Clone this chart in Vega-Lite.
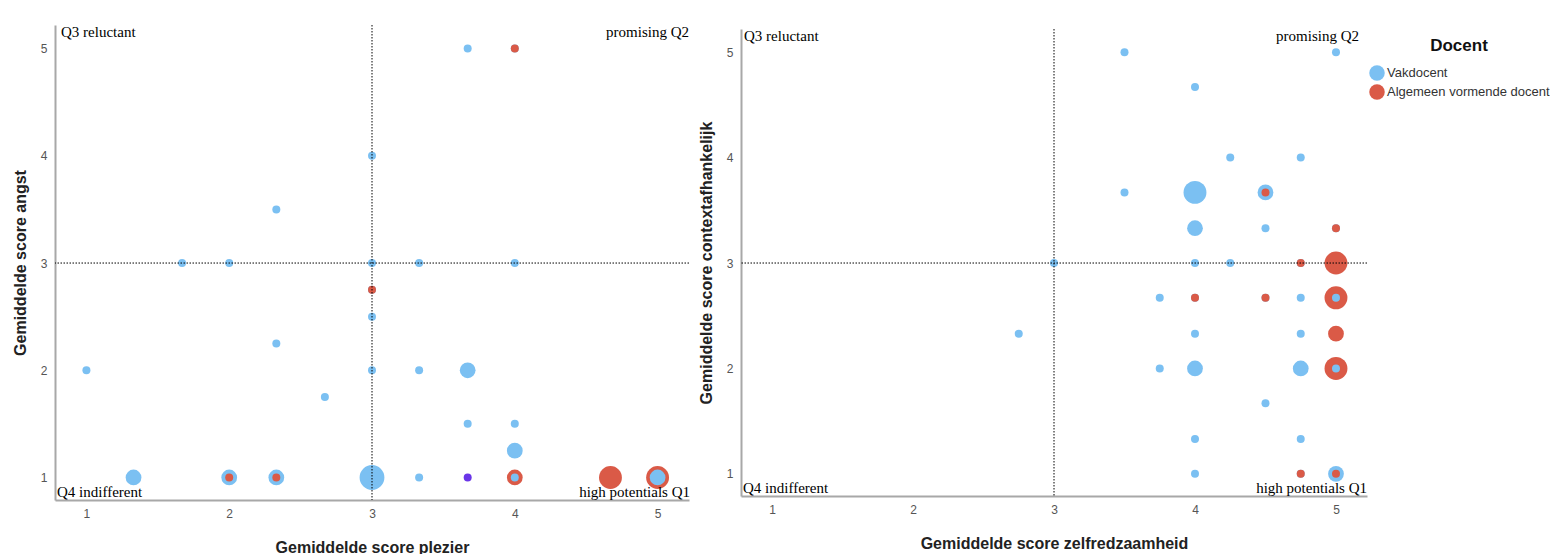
{
  "$schema": "https://vega.github.io/schema/vega-lite/v6.json",
  "background": "white",
  "padding": {"left": 12, "top": 24, "right": 0, "bottom": 0},
  "datasets": {
    "plezier": [
      {"x": 3, "y": 1, "n": 7, "Docent": "Vakdocent"},
      {"x": 4.67, "y": 1, "n": 6, "Docent": "Algemeen vormende docent"},
      {"x": 5, "y": 1, "n": 6, "Docent": "Algemeen vormende docent"},
      {"x": 5, "y": 1, "n": 3, "Docent": "Vakdocent"},
      {"x": 1.33, "y": 1, "n": 3, "Docent": "Vakdocent"},
      {"x": 2, "y": 1, "n": 3, "Docent": "Vakdocent"},
      {"x": 2.33, "y": 1, "n": 3, "Docent": "Vakdocent"},
      {"x": 3.67, "y": 2, "n": 3, "Docent": "Vakdocent"},
      {"x": 4, "y": 1.25, "n": 3, "Docent": "Vakdocent"},
      {"x": 4, "y": 1, "n": 3, "Docent": "Algemeen vormende docent"},
      {"x": 4, "y": 1, "n": 1, "Docent": "Vakdocent"},
      {"x": 2, "y": 1, "n": 1, "Docent": "Algemeen vormende docent"},
      {"x": 2.33, "y": 1, "n": 1, "Docent": "Algemeen vormende docent"},
      {"x": 3.67, "y": 5, "n": 1, "Docent": "Vakdocent"},
      {"x": 4, "y": 5, "n": 1, "Docent": "Vakdocent"},
      {"x": 4, "y": 5, "n": 1, "Docent": "Algemeen vormende docent"},
      {"x": 3, "y": 4, "n": 1, "Docent": "Vakdocent"},
      {"x": 2.33, "y": 3.5, "n": 1, "Docent": "Vakdocent"},
      {"x": 1.67, "y": 3, "n": 1, "Docent": "Vakdocent"},
      {"x": 2, "y": 3, "n": 1, "Docent": "Vakdocent"},
      {"x": 3, "y": 3, "n": 1, "Docent": "Vakdocent"},
      {"x": 3.33, "y": 3, "n": 1, "Docent": "Vakdocent"},
      {"x": 4, "y": 3, "n": 1, "Docent": "Vakdocent"},
      {"x": 3, "y": 2.75, "n": 1, "Docent": "Vakdocent"},
      {"x": 3, "y": 2.75, "n": 1, "Docent": "Algemeen vormende docent"},
      {"x": 3, "y": 2.5, "n": 1, "Docent": "Vakdocent"},
      {"x": 2.33, "y": 2.25, "n": 1, "Docent": "Vakdocent"},
      {"x": 1, "y": 2, "n": 1, "Docent": "Vakdocent"},
      {"x": 3, "y": 2, "n": 1, "Docent": "Vakdocent"},
      {"x": 3.33, "y": 2, "n": 1, "Docent": "Vakdocent"},
      {"x": 2.67, "y": 1.75, "n": 1, "Docent": "Vakdocent"},
      {"x": 3.67, "y": 1.5, "n": 1, "Docent": "Vakdocent"},
      {"x": 4, "y": 1.5, "n": 1, "Docent": "Vakdocent"},
      {"x": 3.33, "y": 1, "n": 1, "Docent": "Vakdocent"},
      {"x": 3.67, "y": 1, "n": 1, "Docent": "Beide"}
    ],
    "zelf": [
      {"x": 4, "y": 3.67, "n": 6, "Docent": "Vakdocent"},
      {"x": 5, "y": 3, "n": 6, "Docent": "Algemeen vormende docent"},
      {"x": 5, "y": 2.67, "n": 6, "Docent": "Algemeen vormende docent"},
      {"x": 5, "y": 2, "n": 6, "Docent": "Algemeen vormende docent"},
      {"x": 4.5, "y": 3.67, "n": 3, "Docent": "Vakdocent"},
      {"x": 4, "y": 3.33, "n": 3, "Docent": "Vakdocent"},
      {"x": 5, "y": 2.33, "n": 3, "Docent": "Algemeen vormende docent"},
      {"x": 4, "y": 2, "n": 3, "Docent": "Vakdocent"},
      {"x": 4.75, "y": 2, "n": 3, "Docent": "Vakdocent"},
      {"x": 5, "y": 1, "n": 3, "Docent": "Vakdocent"},
      {"x": 3.5, "y": 5, "n": 1, "Docent": "Vakdocent"},
      {"x": 5, "y": 5, "n": 1, "Docent": "Vakdocent"},
      {"x": 4, "y": 4.67, "n": 1, "Docent": "Vakdocent"},
      {"x": 4.25, "y": 4, "n": 1, "Docent": "Vakdocent"},
      {"x": 4.75, "y": 4, "n": 1, "Docent": "Vakdocent"},
      {"x": 3.5, "y": 3.67, "n": 1, "Docent": "Vakdocent"},
      {"x": 4.5, "y": 3.67, "n": 1, "Docent": "Algemeen vormende docent"},
      {"x": 4.5, "y": 3.33, "n": 1, "Docent": "Vakdocent"},
      {"x": 5, "y": 3.33, "n": 1, "Docent": "Vakdocent"},
      {"x": 5, "y": 3.33, "n": 1, "Docent": "Algemeen vormende docent"},
      {"x": 3, "y": 3, "n": 1, "Docent": "Vakdocent"},
      {"x": 4, "y": 3, "n": 1, "Docent": "Vakdocent"},
      {"x": 4.25, "y": 3, "n": 1, "Docent": "Vakdocent"},
      {"x": 4.75, "y": 3, "n": 1, "Docent": "Vakdocent"},
      {"x": 4.75, "y": 3, "n": 1, "Docent": "Algemeen vormende docent"},
      {"x": 3.75, "y": 2.67, "n": 1, "Docent": "Vakdocent"},
      {"x": 4, "y": 2.67, "n": 1, "Docent": "Vakdocent"},
      {"x": 4, "y": 2.67, "n": 1, "Docent": "Algemeen vormende docent"},
      {"x": 4.5, "y": 2.67, "n": 1, "Docent": "Vakdocent"},
      {"x": 4.5, "y": 2.67, "n": 1, "Docent": "Algemeen vormende docent"},
      {"x": 4.75, "y": 2.67, "n": 1, "Docent": "Vakdocent"},
      {"x": 5, "y": 2.67, "n": 1, "Docent": "Vakdocent"},
      {"x": 2.75, "y": 2.33, "n": 1, "Docent": "Vakdocent"},
      {"x": 4, "y": 2.33, "n": 1, "Docent": "Vakdocent"},
      {"x": 4.75, "y": 2.33, "n": 1, "Docent": "Vakdocent"},
      {"x": 3.75, "y": 2, "n": 1, "Docent": "Vakdocent"},
      {"x": 5, "y": 2, "n": 1, "Docent": "Vakdocent"},
      {"x": 4.5, "y": 1.67, "n": 1, "Docent": "Vakdocent"},
      {"x": 4, "y": 1.33, "n": 1, "Docent": "Vakdocent"},
      {"x": 4.75, "y": 1.33, "n": 1, "Docent": "Vakdocent"},
      {"x": 4, "y": 1, "n": 1, "Docent": "Vakdocent"},
      {"x": 4.75, "y": 1, "n": 1, "Docent": "Vakdocent"},
      {"x": 4.75, "y": 1, "n": 1, "Docent": "Algemeen vormende docent"},
      {"x": 5, "y": 1, "n": 1, "Docent": "Algemeen vormende docent"}
    ]
  },
  "spacing": 8,
  "center": true,
  "hconcat": [
    {
      "width": 634,
      "height": 475,
      "layer": [
        {
          "data": {"name": "plezier"},
          "mark": {"type": "circle", "opacity": 1},
          "encoding": {
            "x": {"field": "x", "type": "quantitative", "scale": {"domain": [0.78, 5.22], "nice": false, "zero": false}, "axis": {"title": "Gemiddelde score plezier", "values": [1, 2, 3, 4, 5], "format": "d"}},
            "y": {"field": "y", "type": "quantitative", "scale": {"domain": [0.79, 5.22], "nice": false, "zero": false}, "axis": {"title": "Gemiddelde score angst", "values": [1, 2, 3, 4, 5], "format": "d"}},
            "size": {"field": "n", "type": "quantitative", "scale": {"domain": [1, 7], "range": [64, 616], "zero": false}, "legend": null},
            "color": {"field": "Docent", "type": "nominal", "scale": {"domain": ["Vakdocent", "Algemeen vormende docent", "Beide"], "range": ["#7bc0f2", "#da5a47", "#6a35e8"]}, "legend": {"values": ["Vakdocent", "Algemeen vormende docent"], "orient": "none", "legendX": 1314, "legendY": 13}}
          }
        },
        {"data": {"values": [{}]}, "mark": {"type": "rule", "color": "black", "strokeWidth": 1, "strokeDash": [1.5, 1.5]}, "encoding": {"x": {"datum": 3}}},
        {"data": {"values": [{}]}, "mark": {"type": "rule", "color": "black", "strokeWidth": 1, "strokeDash": [1.5, 1.5]}, "encoding": {"y": {"datum": 3}}},
        {"data": {"values": [{}]}, "mark": {"type": "text", "text": "Q3 reluctant", "font": "Liberation Serif", "fontSize": 15, "align": "left", "baseline": "top", "dx": 6, "dy": 0, "color": "black"}, "encoding": {"x": {"datum": 0.78}, "y": {"datum": 5.22}}},
        {"data": {"values": [{}]}, "mark": {"type": "text", "text": "promising Q2", "font": "Liberation Serif", "fontSize": 15, "align": "right", "baseline": "top", "dx": 0, "dy": 0, "color": "black"}, "encoding": {"x": {"datum": 5.22}, "y": {"datum": 5.22}}},
        {"data": {"values": [{}]}, "mark": {"type": "text", "text": "Q4 indifferent", "font": "Liberation Serif", "fontSize": 15, "align": "left", "baseline": "bottom", "dx": 2, "dy": 0, "color": "black"}, "encoding": {"x": {"datum": 0.78}, "y": {"datum": 0.79}}},
        {"data": {"values": [{}]}, "mark": {"type": "text", "text": "high potentials Q1", "font": "Liberation Serif", "fontSize": 15, "align": "right", "baseline": "bottom", "dx": 1, "dy": 0, "color": "black"}, "encoding": {"x": {"datum": 5.22}, "y": {"datum": 0.79}}}
      ]
    },
    {
      "width": 626,
      "height": 467,
      "layer": [
        {
          "data": {"name": "zelf"},
          "mark": {"type": "circle", "opacity": 1},
          "encoding": {
            "x": {"field": "x", "type": "quantitative", "scale": {"domain": [0.78, 5.22], "nice": false, "zero": false}, "axis": {"title": "Gemiddelde score zelfredzaamheid", "values": [1, 2, 3, 4, 5], "format": "d"}},
            "y": {"field": "y", "type": "quantitative", "scale": {"domain": [0.79, 5.22], "nice": false, "zero": false}, "axis": {"title": "Gemiddelde score contextafhankelijk", "values": [1, 2, 3, 4, 5], "format": "d"}},
            "size": {"field": "n", "type": "quantitative", "scale": {"domain": [1, 7], "range": [64, 616], "zero": false}, "legend": null},
            "color": {"field": "Docent", "type": "nominal", "scale": {"domain": ["Vakdocent", "Algemeen vormende docent", "Beide"], "range": ["#7bc0f2", "#da5a47", "#6a35e8"]}, "legend": {"values": ["Vakdocent", "Algemeen vormende docent"], "orient": "none", "legendX": 1314, "legendY": 13}}
          }
        },
        {"data": {"values": [{}]}, "mark": {"type": "rule", "color": "black", "strokeWidth": 1, "strokeDash": [1.5, 1.5]}, "encoding": {"x": {"datum": 3}}},
        {"data": {"values": [{}]}, "mark": {"type": "rule", "color": "black", "strokeWidth": 1, "strokeDash": [1.5, 1.5]}, "encoding": {"y": {"datum": 3}}},
        {"data": {"values": [{}]}, "mark": {"type": "text", "text": "Q3 reluctant", "font": "Liberation Serif", "fontSize": 15, "align": "left", "baseline": "top", "dx": 3, "dy": 0, "color": "black"}, "encoding": {"x": {"datum": 0.78}, "y": {"datum": 5.22}}},
        {"data": {"values": [{}]}, "mark": {"type": "text", "text": "promising Q2", "font": "Liberation Serif", "fontSize": 15, "align": "right", "baseline": "top", "dx": -8, "dy": 0, "color": "black"}, "encoding": {"x": {"datum": 5.22}, "y": {"datum": 5.22}}},
        {"data": {"values": [{}]}, "mark": {"type": "text", "text": "Q4 indifferent", "font": "Liberation Serif", "fontSize": 15, "align": "left", "baseline": "bottom", "dx": 2, "dy": 0, "color": "black"}, "encoding": {"x": {"datum": 0.78}, "y": {"datum": 0.79}}},
        {"data": {"values": [{}]}, "mark": {"type": "text", "text": "high potentials Q1", "font": "Liberation Serif", "fontSize": 15, "align": "right", "baseline": "bottom", "dx": 0, "dy": 0, "color": "black"}, "encoding": {"x": {"datum": 5.22}, "y": {"datum": 0.79}}}
      ]
    }
  ],
  "config": {
    "view": {"stroke": null},
    "axis": {
      "grid": false,
      "ticks": false,
      "domainColor": "#a8a8a8",
      "domainWidth": 2,
      "labelFont": "Liberation Sans",
      "labelFontSize": 12,
      "labelColor": "#555555",
      "labelPadding": 8,
      "titleFont": "Liberation Sans",
      "titleFontSize": 16,
      "titleFontWeight": "bold",
      "titleColor": "#222222"
    },
    "axisX": {"titlePadding": 20},
    "axisY": {"titlePadding": 12},
    "legend": {
      "titleFont": "Liberation Sans",
      "titleFontSize": 17,
      "titleFontWeight": "bold",
      "titleColor": "#111111",
      "titleAnchor": "middle",
      "titlePadding": 10,
      "labelFont": "Liberation Sans",
      "labelFontSize": 13,
      "labelColor": "#333333",
      "labelOffset": 2,
      "labelLimit": 400,
      "symbolSize": 240,
      "symbolType": "circle",
      "symbolStrokeWidth": 0,
      "rowPadding": 3,
      "padding": 0
    }
  }
}
